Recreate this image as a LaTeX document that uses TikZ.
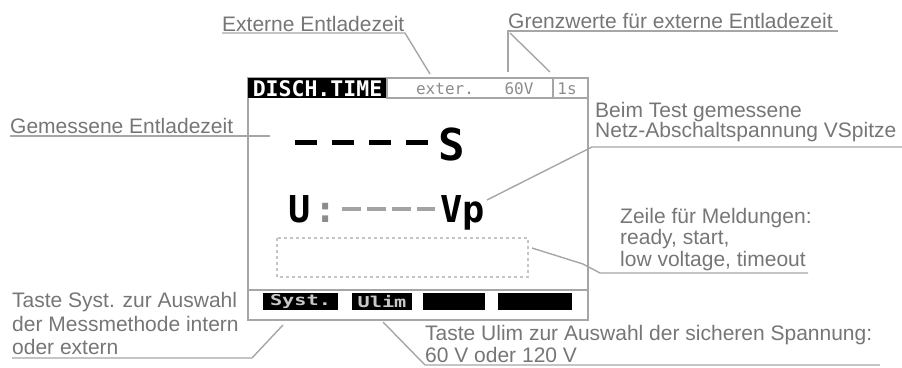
\documentclass[tikz,border=0pt]{standalone}
\usepackage{fontspec}
\setmainfont{Liberation Sans}
\newfontfamily\lcd{DejaVu Sans Mono}
\definecolor{labelgray}{HTML}{767676}
\definecolor{linegray}{HTML}{A6A6A6}
\definecolor{dotgray}{HTML}{C4C4C4}
\definecolor{lcdgray}{HTML}{8C8C8C}
\definecolor{keytext}{HTML}{C8C8C8}
\tikzset{
  callout/.style={font=\fontsize{21}{24}\selectfont, text=labelgray, inner sep=0pt, anchor=base west},
  leader/.style={draw=linegray, line width=1.4pt},
  framed/.style={draw=linegray, line width=2pt},
  softkey/.style={fill=black},
  lcdbig/.style={font=\lcd\bfseries\fontsize{37}{40}\selectfont, inner sep=0pt, anchor=base},
  lcdsmall/.style={font=\lcd\fontsize{16}{18}\selectfont, text=lcdgray, inner sep=0pt},
  keylabel/.style={font=\lcd\bfseries\fontsize{15}{17}\selectfont, text=keytext, inner sep=0pt, xscale=1.35},
}
\begin{document}
\begin{tikzpicture}[x=1pt,y=-1pt]
\useasboundingbox (0,0) rectangle (902,367);

% ---- instrument display ----
\draw[framed] (248,78) rectangle (588,320);
\fill[black] (248,78) rectangle (387,98);
\draw[leader] (387,78) rectangle (588,98);
\draw[leader] (553,78) -- (553,98);
\node[font=\lcd\bfseries\fontsize{21.5}{22}\selectfont, text=white, inner sep=0pt] (title) at (317.5,88.5) {DISCH.TIME};
\node[lcdsmall] (mode) at (445,88.5) {exter.};
\node[lcdsmall] (ulimit) at (519,88.5) {60V};
\node[lcdsmall] (tlimit) at (567,88.5) {1s};

% discharge time readout
\draw[line width=5pt, dash pattern=on 22pt off 15pt] (295,142) -- (428,142);
\node[lcdbig, font=\lcd\bfseries\fontsize{44}{46}\selectfont] (unit-s) at (452,160) {S};

% peak voltage readout
\node[lcdbig] (u-sym) at (300,222) {U};
\node[lcdbig, text=lcdgray] (u-colon) at (326,222) {:};
\draw[line width=4pt, draw=lcdgray!80, dash pattern=on 19pt off 6pt] (342,209) -- (435,209);
\node[lcdbig, anchor=base west] (unit-vp) at (440,222) {Vp};

% message line
\draw[dotgray, line width=2pt, dash pattern=on 3pt off 3pt] (277,238) rectangle (528,277);

% soft keys
\draw[framed] (248,290) -- (588,290);
\fill[softkey] (263,293) rectangle (338,310);
\fill[softkey] (352,293) rectangle (412,310);
\fill[softkey] (423,293) rectangle (485,310);
\fill[softkey] (498,293) rectangle (572,310);
\node[keylabel] (key-syst) at (300.5,301.5) {Syst.};
\node[keylabel] (key-ulim) at (382,301.5) {Ulim};

% ---- callout texts ----
\node[callout] (ext) at (222,31) {Externe Entladezeit};
\node[callout] (grenz) at (508,28) {Grenzwerte für externe Entladezeit};
\node[callout] (gem) at (10,133) {Gemessene Entladezeit};
\node[callout] (beim1) at (595,117) {Beim Test gemessene};
\node[callout] (beim2) at (595,137) {Netz-Abschaltspannung VSpitze};
\node[callout] (zeile1) at (620,223) {Zeile für Meldungen:};
\node[callout] (zeile2) at (620,244) {ready, start,};
\node[callout] (zeile3) at (620,266) {low voltage, timeout};
\node[callout] (syst1) at (12,307) {Taste Syst. zur Auswahl};
\node[callout] (syst2) at (12,331) {der Messmethode intern};
\node[callout] (syst3) at (12,354) {oder extern};
\node[callout] (ulim1) at (425,340) {Taste Ulim zur Auswahl der sicheren Spannung:};
\node[callout] (ulim2) at (425,362) {60 V oder 120 V};

% ---- leader end points ----
\coordinate (ext-a) at (222,33);
\coordinate (ext-b) at (405,33);
\coordinate (ext-c) at (430,74);
\coordinate (grenz-a) at (838,31);
\coordinate (grenz-b) at (508,31);
\coordinate (grenz-c) at (508,72);
\coordinate (grenz-d) at (510,33);
\coordinate (grenz-e) at (550,72);
\coordinate (gem-a) at (10,136);
\coordinate (gem-b) at (270,136);
\coordinate (beim-a) at (902,147);
\coordinate (beim-b) at (592,147);
\coordinate (beim-c) at (487,200);
\coordinate (zeile-a) at (808,273);
\coordinate (zeile-b) at (600,273);
\coordinate (zeile-c) at (583,264);
\coordinate (zeile-d) at (532,248);
\coordinate (syst-a) at (12,358);
\coordinate (syst-b) at (252,358);
\coordinate (syst-c) at (283,325);
\coordinate (ulim-a) at (880,365);
\coordinate (ulim-b) at (425,365);
\coordinate (ulim-c) at (383,322);

% ---- leaders ----
\draw[leader] (ext-a) -- (ext-b) -- (ext-c);
\draw[leader] (grenz-a) -- (grenz-b) -- (grenz-c);
\draw[leader] (grenz-d) -- (grenz-e);
\draw[leader] (gem-a) -- (gem-b);
\draw[leader] (beim-a) -- (beim-b) -- (beim-c);
\draw[leader] (zeile-a) -- (zeile-b) -- (zeile-c) -- (zeile-d);
\draw[leader] (syst-a) -- (syst-b) -- (syst-c);
\draw[leader] (ulim-a) -- (ulim-b) -- (ulim-c);
\end{tikzpicture}
\end{document}
